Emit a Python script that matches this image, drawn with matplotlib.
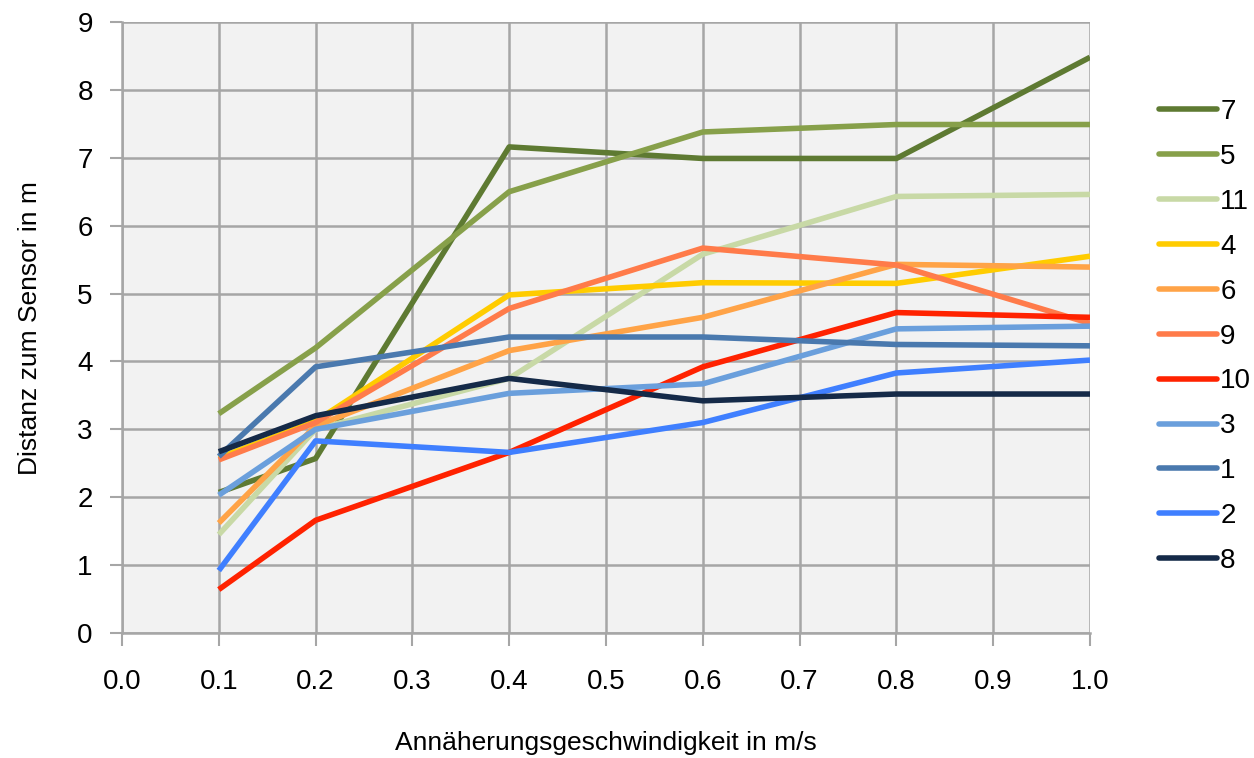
import numpy as np
import matplotlib
matplotlib.use("Agg")
import matplotlib.pyplot as plt

plt.rcParams['font.family'] = ['Liberation Sans Narrow', 'Liberation Sans', 'DejaVu Sans']

# speeds in m/s
speed = [0.1, 0.2, 0.4, 0.6, 0.8, 1.0]

# distance to sensor per test person (legend order)
names = ['7', '5', '11', '4', '6', '9', '10', '3', '1', '2', '8']
d7 = [2.07, 2.57, 7.16, 6.99, 6.99, 8.48]
d5 = [3.23, 4.20, 6.50, 7.38, 7.49, 7.49]
d11 = [1.45, 3.00, 3.75, 5.58, 6.43, 6.46]
d4 = [2.58, 3.12, 4.98, 5.16, 5.15, 5.55]
d6 = [1.62, 3.05, 4.16, 4.65, 5.43, 5.39]
d9 = [2.55, 3.10, 4.78, 5.67, 5.42, 4.56]
d10 = [0.64, 1.66, 2.66, 3.92, 4.72, 4.65]
d3 = [2.03, 3.00, 3.53, 3.67, 4.48, 4.52]
d1 = [2.60, 3.92, 4.36, 4.36, 4.25, 4.23]
d2 = [0.92, 2.83, 2.66, 3.10, 3.83, 4.02]
d8 = [2.67, 3.20, 3.75, 3.42, 3.52, 3.52]
series = [d7, d5, d11, d4, d6, d9, d10, d3, d1, d2, d8]

colors = ['#5E7A32', '#87A04A', '#C8D9A6', '#FFCC00', '#FFA347', '#FF7B4A',
          '#FF2200', '#6A9FDC', '#4A79AE', '#3F7FFF', '#152A48']

fig = plt.figure(figsize=(12.54, 7.58), dpi=100)
ax = fig.add_axes([122/1254, 1 - 633/758, (1090-122)/1254, (633-22)/758])
ax.set_facecolor('#F2F2F2')

for name, vals, c in zip(names, series, colors):
    ax.plot(speed, vals, color=c, lw=4, label=name, solid_capstyle='butt', zorder=3)

ax.set_xlim(0, 1.0)
ax.set_ylim(0, 9)
ax.set_xticks(np.arange(0, 1.01, 0.1))
ax.set_xticklabels(['%.1f' % v for v in np.arange(0, 1.01, 0.1)])
ax.set_yticks(range(0, 10))
ax.grid(True, color='#A6A6A6', lw=1.8, zorder=1)
ax.set_axisbelow(True)
for s in ['top', 'right']:
    ax.spines[s].set_visible(False)
for s in ['left', 'bottom']:
    ax.spines[s].set_color('#A6A6A6')
    ax.spines[s].set_linewidth(1.8)
ax.tick_params(axis='both', labelsize=20, colors='#A6A6A6', labelcolor='black',
               length=9, width=1.5, direction='out')
ax.tick_params(axis='x', pad=17)
ax.tick_params(axis='y', pad=12)

fig.text(30/1254, 1 - 328/758, 'Distanz zum Sensor in m', rotation=90, fontsize=19,
         ha='center', va='center')
fig.text(606/1254, 1 - 743/758, 'Annäherungsgeschwindigkeit in m/s', fontsize=19,
         ha='center', va='center')

leg = fig.legend(loc='upper left', bbox_to_anchor=(1148/1254, 1 - 88/758), frameon=False,
                 fontsize=20, handlelength=2.1, handletextpad=0.1, labelspacing=0.68,
                 borderaxespad=0)
for h in leg.get_lines():
    h.set_linewidth(4)
    h.set_solid_capstyle('round')

fig.savefig('out.png', dpi=100)
